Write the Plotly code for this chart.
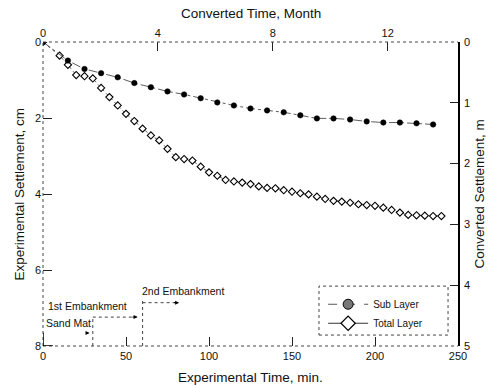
import plotly.graph_objects as go

# ---- data ----
sub_time = [0, 15, 25, 35, 45, 55, 65, 75, 85, 95, 105, 115, 125, 135, 145,
            155, 165, 175, 185, 195, 205, 215, 225, 235]
sub_settle = [0, 0.49, 0.71, 0.82, 0.93, 1.08, 1.19, 1.30, 1.38, 1.48, 1.59,
              1.67, 1.75, 1.80, 1.85, 1.93, 2.01, 2.01, 2.04, 2.09, 2.12,
              2.12, 2.14, 2.17]
total_time = [0, 10, 15, 20, 25, 30, 35, 40, 45, 50, 55, 60, 65, 70, 75, 80,
              85, 90, 95, 100, 105, 110, 115, 120, 125, 130, 135, 140, 145,
              150, 155, 160, 165, 170, 175, 180, 185, 190, 195, 200, 205, 210,
              215, 220, 225, 230, 235, 240]
total_settle = [0, 0.36, 0.60, 0.87, 0.90, 0.96, 1.21, 1.45, 1.67, 1.89, 2.08,
                2.28, 2.46, 2.59, 2.81, 3.03, 3.08, 3.12, 3.28, 3.43, 3.52,
                3.63, 3.67, 3.70, 3.74, 3.80, 3.84, 3.85, 3.90, 3.94, 3.98,
                4.01, 4.07, 4.13, 4.18, 4.20, 4.23, 4.27, 4.29, 4.31, 4.36,
                4.42, 4.49, 4.55, 4.56, 4.57, 4.58, 4.58]
x_ticks = [0, 50, 100, 150, 200, 250]
y_ticks = [0, 2, 4, 6, 8]
month_ticks = [0, 4, 8, 12]
m_ticks = [0, 1, 2, 3, 4, 5]
stage_labels = ["Sand Mat", "1st Embankment", "2nd Embankment"]
stage_times = [0, 30, 60]

FONT = "Liberation Sans, Arial, sans-serif"

fig = go.Figure()
fig.add_trace(go.Scatter(
    x=total_time, y=total_settle, mode="lines+markers", showlegend=False,
    line=dict(color="#333", width=0.8, dash="dot"),
    marker=dict(symbol="diamond", size=5.5, color="white",
                line=dict(color="black", width=1.1))))
fig.add_trace(go.Scatter(
    x=sub_time, y=sub_settle, mode="lines+markers", showlegend=False,
    line=dict(color="#333", width=0.8, dash="dashdot"),
    marker=dict(symbol="circle", size=5.5, color="black",
                line=dict(color="black", width=0.5))))
# legend entries
fig.add_trace(go.Scatter(
    x=[None], y=[None], mode="lines+markers", name="Sub Layer",
    line=dict(color="#555", width=1, dash="dash"),
    marker=dict(symbol="circle", size=10, color="#777",
                line=dict(color="black", width=1))))
fig.add_trace(go.Scatter(
    x=[None], y=[None], mode="lines+markers", name="Total Layer",
    line=dict(color="#333", width=1),
    marker=dict(symbol="diamond", size=11, color="white",
                line=dict(color="black", width=1.2))))
# invisible trace to anchor secondary axes
fig.add_trace(go.Scatter(x=[None], y=[None], xaxis="x2", yaxis="y2",
                         showlegend=False, hoverinfo="skip"))

tickfont = dict(family=FONT, size=11, color="#111")
common = dict(showgrid=False, zeroline=False, ticks="inside", ticklen=9,
              tickcolor="#222", tickwidth=1, tickfont=tickfont, showline=False)

fig.update_layout(
    width=494, height=387, autosize=False,
    margin=dict(l=43, r=36, t=42, b=41),
    paper_bgcolor="white", plot_bgcolor="white",
    font=dict(family=FONT, size=12, color="#111"),
    xaxis=dict(range=[0, 250], tickvals=x_ticks, ticklabelstandoff=2, **common),
    yaxis=dict(range=[8, 0], tickvals=y_ticks, ticklabelstandoff=1, **common),
    xaxis2=dict(range=[0, 14.45], tickvals=month_ticks, overlaying="x",
                side="top", anchor="y", ticklabelstandoff=2,
                tickfont=dict(family=FONT, size=11, color="#111"),
                showgrid=False, zeroline=False, ticks="inside", ticklen=9,
                tickcolor="#222", showline=False),
    yaxis2=dict(range=[5, 0], tickvals=m_ticks, overlaying="y", side="right",
                anchor="x", showgrid=False, zeroline=False, ticks="inside",
                ticklen=8, tickcolor="#222", tickfont=tickfont,
                ticklabelstandoff=2,
                showline=True, linecolor="black", linewidth=1.5),
    legend=dict(x=0.675, y=0.185, xanchor="left", yanchor="top",
                bgcolor="rgba(0,0,0,0)", borderwidth=0,
                font=dict(family=FONT, size=10, color="#111"),
                itemwidth=40, tracegroupgap=0),
)

# dotted frame lines (left, top, bottom)
dot = dict(color="#444", width=1, dash="dot")
fig.add_shape(type="line", xref="paper", yref="paper", x0=0, x1=0, y0=0, y1=1, line=dot)
fig.add_shape(type="line", xref="paper", yref="paper", x0=0, x1=1, y0=1, y1=1, line=dot)
fig.add_shape(type="line", xref="paper", yref="paper", x0=0, x1=1, y0=0, y1=0, line=dot)
# legend box
fig.add_shape(type="rect", xref="paper", yref="paper", x0=0.665, x1=0.976,
              y0=0.036, y1=0.197, line=dot, fillcolor="rgba(0,0,0,0)")

# construction stage markers
fig.add_shape(type="line", x0=stage_times[0], x1=stage_times[0], y0=8, y1=7.65,
              line=dict(color="black", width=1.5))
fig.add_shape(type="line", x0=stage_times[0], x1=6, y0=8, y1=8,
              line=dict(color="black", width=1.5))
fig.add_shape(type="line", x0=stage_times[1], x1=stage_times[1], y0=8, y1=7.22, line=dot)
fig.add_shape(type="line", x0=stage_times[2], x1=stage_times[2], y0=8, y1=6.74, line=dot)
fig.add_shape(type="line", x0=stage_times[1], x1=55, y0=7.24, y1=7.24, line=dot)
fig.add_shape(type="line", x0=stage_times[2], x1=80, y0=6.86, y1=6.86, line=dot)
arrow = dict(showarrow=True, arrowhead=2, arrowsize=0.8, arrowwidth=1,
             arrowcolor="black", xref="x", yref="y", axref="x", ayref="y", text="")
fig.add_annotation(x=28, y=7.66, ax=25, ay=7.66, **arrow)
fig.add_annotation(x=57, y=7.24, ax=53, ay=7.24, **arrow)
fig.add_annotation(x=82, y=6.86, ax=78, ay=6.86, **arrow)
lab = dict(showarrow=False, xref="x", yref="y", xanchor="left",
           font=dict(family=FONT, size=10.5, color="#111"))
fig.add_annotation(x=0.5, y=7.4, text=stage_labels[0], **lab)
fig.add_annotation(x=2, y=6.95, text=stage_labels[1], **lab)
fig.add_annotation(x=58.5, y=6.55, text=stage_labels[2], **lab)

# axis titles
tt = dict(showarrow=False, xref="paper", yref="paper",
          font=dict(family=FONT, size=13.5, color="#111"))
fig.add_annotation(x=0.5, y=-0.105, yanchor="middle", text="Experimental Time, min.", **tt)
fig.add_annotation(x=0.5, y=1.095, yanchor="middle", text="Converted Time, Month", **tt)
fig.add_annotation(x=0, xshift=-34, y=0.5, textangle=-90, text="Experimental Settlement, cm", **tt)
fig.add_annotation(x=1, xshift=30, y=0.5, textangle=-90, text="Converted Settlement, m", **tt)

fig.write_html("out.html")
